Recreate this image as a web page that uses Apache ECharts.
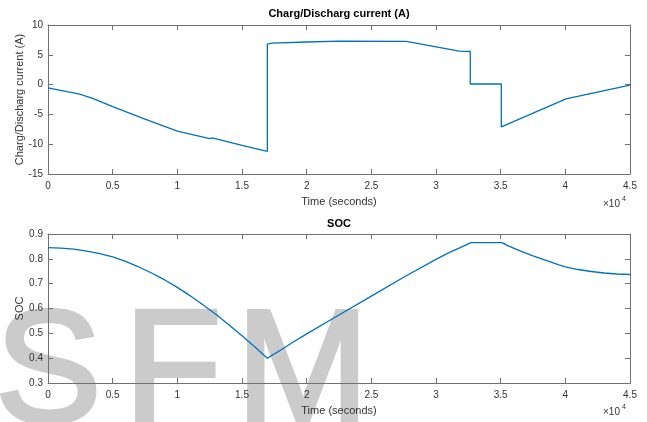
<!DOCTYPE html>
<html>
<head>
<meta charset="utf-8">
<script src="https://cdn.jsdelivr.net/npm/echarts@6/dist/echarts.min.js"></script>
<style>
  html, body { margin: 0; padding: 0; background: #fff; }
  #chart { width: 647px; height: 422px; }
</style>
</head>
<body>
<div id="chart"></div>
<script>
// Battery charge/discharge current over time (seconds)
const currentTime = [0, 2450, 3500, 5000, 7500, 10000, 12500, 12700, 15000, 16960, 16960, 17300, 20000, 22500, 27700, 31800, 32650, 32650, 35050, 35050, 40050, 45000];
const currentAmps = [-0.55, -1.6, -2.35, -3.7, -5.8, -7.8, -9.05, -8.95, -10.2, -11.2, 6.8, 6.95, 7.15, 7.3, 7.25, 5.6, 5.55, 0.1, 0.1, -7.1, -2.4, -0.1];

// State of charge over time (seconds)
const socTime = [0, 1000, 2000, 3000, 4000, 5000, 6000, 7000, 8000, 9000, 10000, 11000, 12000, 13000, 14000, 15000, 16000, 16960,
  18000, 19000, 20000, 22500, 25000, 27500, 30000, 31000, 32000, 32700, 35100,
  35500, 36000, 36500, 37000, 37500, 38000, 38500, 39000, 39500, 40000, 41000, 42000, 43000, 44000, 45000];
const socValue = [0.845, 0.843, 0.839, 0.831, 0.821, 0.808, 0.790, 0.768, 0.743, 0.716, 0.685, 0.651, 0.614, 0.576, 0.534, 0.490, 0.445, 0.400,
  0.433, 0.466, 0.498, 0.574, 0.650, 0.726, 0.798, 0.825, 0.848, 0.865, 0.865,
  0.854, 0.843, 0.832, 0.822, 0.812, 0.803, 0.794, 0.785, 0.776, 0.768, 0.757, 0.749, 0.743, 0.739, 0.737];

// Watermark letters and their left positions
const markLetters = ['S', 'F', 'M'];
const markLeft = [-5, 124, 236];

const timeTicksLabel = v => String(v / 10000);

const axisColor = '#707070';
const labelColor = '#333333';
const lineColor = '#0072BD';
const fontFamily = '"Liberation Sans", Arial, Helvetica, sans-serif';

const gridDefs = [
  { left: 48, right: 17, top: 25, height: 149 },
  { left: 48, right: 17, top: 234, height: 149 }
];

function boxXAxis(gridIndex, position, withLabels) {
  return {
    type: 'value', gridIndex, position,
    min: 0, max: 45000, interval: 5000,
    axisLine: { show: true, onZero: false, lineStyle: { color: axisColor, width: 1 } },
    axisTick: { show: true, inside: true, length: 5, lineStyle: { color: axisColor } },
    axisLabel: withLabels ? { show: true, formatter: timeTicksLabel, margin: 7, fontSize: 10, color: labelColor, fontFamily } : { show: false },
    splitLine: { show: false },
    name: withLabels ? 'Time (seconds)' : '',
    nameLocation: 'middle', nameGap: 22, nameMoveOverlap: false,
    nameTextStyle: { fontSize: 11, color: labelColor, fontFamily }
  };
}

function boxYAxis(gridIndex, position, range, name, fmt) {
  const withLabels = position === 'left';
  return {
    type: 'value', gridIndex, position,
    min: range[0], max: range[1], interval: range[2],
    axisLine: { show: true, onZero: false, lineStyle: { color: axisColor, width: 1 } },
    axisTick: { show: true, inside: true, length: 5, lineStyle: { color: axisColor } },
    axisLabel: withLabels ? { show: true, formatter: fmt, margin: 5, fontSize: 10, color: labelColor, fontFamily } : { show: false },
    splitLine: { show: false },
    name: withLabels ? name : '',
    nameLocation: 'middle', nameGap: 23, nameMoveOverlap: false,
    nameTextStyle: { fontSize: 11, color: labelColor, fontFamily }
  };
}

const chart = echarts.init(document.getElementById('chart'), null, { renderer: 'canvas' });

// Large grey lettering behind the plots
const watermark = markLetters.map((ch, i) => ({
  type: 'text', z: -1, silent: true,
  style: {
    text: ch, x: markLeft[i], y: 377, align: 'left', verticalAlign: 'middle',
    font: '160px ' + fontFamily,
    fill: '#cbcbcb', stroke: '#cbcbcb', lineWidth: 4
  }
}));

chart.setOption({
  animation: false,
  backgroundColor: '#ffffff',
  grid: gridDefs,
  xAxis: [
    boxXAxis(0, 'bottom', true), boxXAxis(0, 'top', false),
    boxXAxis(1, 'bottom', true), boxXAxis(1, 'top', false)
  ],
  yAxis: [
    boxYAxis(0, 'left', [-15, 10, 5], 'Charg/Discharg current (A)', v => String(v)),
    boxYAxis(0, 'right', [-15, 10, 5], '', null),
    boxYAxis(1, 'left', [0.3, 0.9, 0.1], 'SOC', v => v.toFixed(1)),
    boxYAxis(1, 'right', [0.3, 0.9, 0.1], '', null)
  ],
  series: [
    {
      type: 'line', xAxisIndex: 0, yAxisIndex: 0,
      data: currentTime.map((t, i) => [t, currentAmps[i]]),
      showSymbol: false, lineStyle: { color: lineColor, width: 1.3 }
    },
    {
      type: 'line', xAxisIndex: 2, yAxisIndex: 2,
      data: socTime.map((t, i) => [t, socValue[i]]),
      showSymbol: false, lineStyle: { color: lineColor, width: 1.3 }
    }
  ],
  graphic: watermark.concat([
    { type: 'text', z: 10, style: { text: 'Charg/Discharg current (A)', x: 339, y: 14, align: 'center', verticalAlign: 'middle', font: 'bold 11px ' + fontFamily, fill: '#000' } },
    { type: 'text', z: 10, style: { text: 'SOC', x: 339, y: 224, align: 'center', verticalAlign: 'middle', font: 'bold 11px ' + fontFamily, fill: '#000' } },
    { type: 'text', z: 10, style: { text: '×10', x: 603, y: 204, align: 'left', verticalAlign: 'middle', font: '10px ' + fontFamily, fill: labelColor } },
    { type: 'text', z: 10, style: { text: '4', x: 622, y: 199, align: 'left', verticalAlign: 'middle', font: '7px ' + fontFamily, fill: labelColor } },
    { type: 'text', z: 10, style: { text: '×10', x: 603, y: 412, align: 'left', verticalAlign: 'middle', font: '10px ' + fontFamily, fill: labelColor } },
    { type: 'text', z: 10, style: { text: '4', x: 622, y: 407, align: 'left', verticalAlign: 'middle', font: '7px ' + fontFamily, fill: labelColor } }
  ])
});
</script>
</body>
</html>
